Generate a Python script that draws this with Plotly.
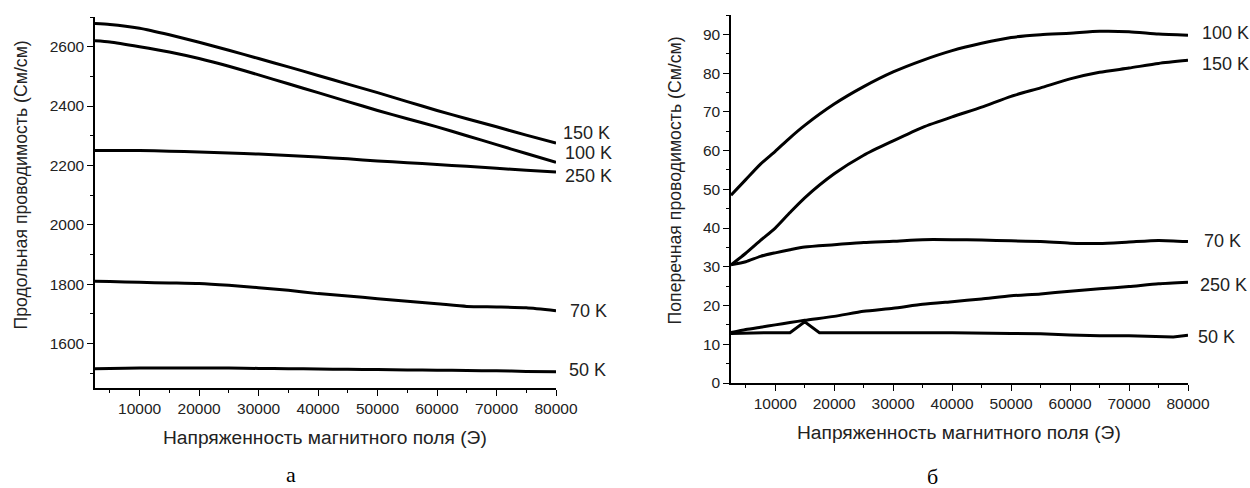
import plotly.graph_objects as go

W, H = 1250, 488

# ---------- data: panel a (longitudinal conductivity) ----------
field_a = [2500, 5000, 10000, 15000, 20000, 25000, 30000, 35000, 40000, 45000,
           50000, 55000, 60000, 65000, 70000, 75000, 80000]
long_150K = [2678, 2675, 2662, 2640, 2615, 2588, 2560, 2532, 2503, 2474,
             2445, 2415, 2385, 2357, 2330, 2302, 2275]
long_100K = [2620, 2616, 2600, 2582, 2560, 2534, 2505, 2475, 2445, 2415,
             2385, 2357, 2330, 2300, 2270, 2240, 2210]
long_250K = [2250, 2250, 2250, 2248, 2245, 2242, 2238, 2233, 2228, 2222,
             2215, 2209, 2203, 2197, 2190, 2184, 2178]
long_70K = [1810, 1809, 1806, 1804, 1802, 1796, 1788, 1779, 1768, 1760,
            1751, 1742, 1734, 1725, 1723, 1720, 1710]
long_50K = [1515, 1516, 1517, 1517, 1517, 1517, 1516, 1515, 1514, 1513,
            1512, 1511, 1510, 1509, 1508, 1506, 1505]
labels_a = ["150 K", "100 K", "250 K", "70 K", "50 K"]

# ---------- data: panel б (transverse conductivity) ----------
field_b = [2500, 5000, 7500, 10000, 12500, 15000, 20000, 25000, 30000, 35000, 40000,
           45000, 50000, 55000, 60000, 65000, 70000, 75000, 80000]
tr_100K = [48.5, 52.5, 56.5, 59.8, 63.3, 66.5, 72.0, 76.5, 80.3, 83.3, 85.8,
           87.7, 89.2, 89.9, 90.3, 90.8, 90.7, 90.1, 89.8]
tr_150K = [30.5, 33.5, 36.8, 40.0, 44.0, 47.8, 54.0, 58.8, 62.5, 66.0, 68.7,
           71.2, 74.0, 76.2, 78.5, 80.2, 81.3, 82.5, 83.3]
tr_70K = [30.5, 31.3, 32.7, 33.6, 34.4, 35.1, 35.7, 36.3, 36.6, 37.0, 37.0,
          36.9, 36.7, 36.5, 36.1, 36.0, 36.4, 36.8, 36.5]
tr_250K = [13.0, 13.8, 14.4, 15.0, 15.6, 16.2, 17.2, 18.5, 19.3, 20.3, 21.0,
           21.7, 22.5, 23.0, 23.7, 24.3, 24.9, 25.6, 26.0]
field_b50 = [2500, 5000, 10000, 12500, 15000, 17500, 20000, 30000, 40000,
             50000, 55000, 60000, 65000, 70000, 75000, 77500, 80000]
tr_50K = [12.8, 12.9, 13.0, 13.0, 15.8, 13.0, 13.0, 13.0, 13.0,
          12.8, 12.7, 12.4, 12.2, 12.2, 12.0, 11.9, 12.3]
labels_b = ["100 K", "150 K", "70 K", "250 K", "50 K"]

x_title = "Напряженность магнитного поля (Э)"
y_title_a = "Продольная проводимость (См/см)"
y_title_b = "Поперечная проводимость (См/см)"

FONT = "Liberation Sans, Arial, sans-serif"
TXT = "#222222"

fig = go.Figure()

series_a = [long_150K, long_100K, long_250K, long_70K, long_50K]
for name, ys in zip(labels_a, series_a):
    fig.add_trace(go.Scatter(x=field_a, y=ys, mode="lines", name=name,
                             line=dict(color="black", width=3, shape="spline", smoothing=0.6),
                             xaxis="x", yaxis="y", showlegend=False))

series_b = [(field_b, tr_100K), (field_b, tr_150K), (field_b, tr_70K),
            (field_b, tr_250K), (field_b50, tr_50K)]
for name, (xs, ys) in zip(labels_b, series_b):
    shape = "linear" if name == "50 K" else "spline"
    fig.add_trace(go.Scatter(x=xs, y=ys, mode="lines", name=name,
                             line=dict(color="black", width=3, shape=shape, smoothing=0.6),
                             xaxis="x2", yaxis="y2", showlegend=False))

def px(x):
    return x / W

def py(y):
    return 1 - y / H

axis_common = dict(showgrid=False, zeroline=False, showline=True, linecolor="black",
                   linewidth=1.5, ticks="outside", ticklen=6, tickwidth=1.3,
                   tickcolor="black", tickformat="d", automargin=False,
                   tickfont=dict(family=FONT, size=15.5, color=TXT))

fig.update_layout(
    width=W, height=H, margin=dict(l=0, r=0, t=0, b=0, pad=0), autosize=False,
    paper_bgcolor="white", plot_bgcolor="white",
    xaxis=dict(domain=[px(95), px(556)], range=[2500, 80000], dtick=10000, tick0=0,
               minor=dict(dtick=5000, tick0=0, ticks="outside", ticklen=3, tickcolor="black"),
               anchor="y", **axis_common),
    yaxis=dict(domain=[py(388), py(17)], range=[1450, 2700], dtick=200, tick0=0,
               minor=dict(dtick=100, tick0=0, ticks="outside", ticklen=3, tickcolor="black"),
               anchor="x", **axis_common),
    xaxis2=dict(domain=[px(731), px(1188)], range=[2500, 80000], dtick=10000, tick0=0,
                minor=dict(dtick=5000, tick0=0, ticks="outside", ticklen=3, tickcolor="black"),
                anchor="y2", **axis_common),
    yaxis2=dict(domain=[py(383), py(15)], range=[0, 95], dtick=10, tick0=0,
                minor=dict(dtick=5, tick0=0, ticks="outside", ticklen=3, tickcolor="black"),
                anchor="x2", **axis_common),
)

ann = []
LBL = 18
# curve labels panel a: (xshift px, yshift px)
shifts_a = [(5, 10), (7, 9), (7, -4), (12, 0), (11, 2)]
for name, ys, (dx, dy) in zip(labels_a, series_a, shifts_a):
    ann.append(dict(x=field_a[-1], y=ys[-1], xref="x", yref="y", text=name,
                    showarrow=False, xanchor="left", yanchor="middle", xshift=dx, yshift=dy,
                    font=dict(family=FONT, size=LBL, color=TXT)))
shifts_b = [(12, 2), (12, -4), (14, 1), (10, -3), (8, -2)]
for name, (xs, ys), (dx, dy) in zip(labels_b, series_b, shifts_b):
    ann.append(dict(x=xs[-1], y=ys[-1], xref="x2", yref="y2", text=name,
                    showarrow=False, xanchor="left", yanchor="middle", xshift=dx, yshift=dy,
                    font=dict(family=FONT, size=LBL, color=TXT)))

# axis titles
ann.append(dict(x=px(325), y=py(437), xref="paper", yref="paper", text=x_title,
                showarrow=False, xanchor="center", yanchor="middle",
                font=dict(family=FONT, size=19.2, color=TXT)))
ann.append(dict(x=px(959), y=py(432), xref="paper", yref="paper", text=x_title,
                showarrow=False, xanchor="center", yanchor="middle",
                font=dict(family=FONT, size=19.2, color=TXT)))
ann.append(dict(x=px(20), y=py(185.5), xref="paper", yref="paper", text=y_title_a,
                textangle=-90, showarrow=False, xanchor="center", yanchor="middle",
                font=dict(family=FONT, size=17.7, color=TXT)))
ann.append(dict(x=px(675), y=py(180.5), xref="paper", yref="paper", text=y_title_b,
                textangle=-90, showarrow=False, xanchor="center", yanchor="middle",
                font=dict(family=FONT, size=17.7, color=TXT)))
# panel letters
ann.append(dict(x=px(291), y=py(474), xref="paper", yref="paper", text="а",
                showarrow=False, xanchor="center", yanchor="middle",
                font=dict(family="Liberation Serif, Times New Roman, serif", size=22, color="black")))
ann.append(dict(x=px(933), y=py(476), xref="paper", yref="paper", text="б",
                showarrow=False, xanchor="center", yanchor="middle",
                font=dict(family="Liberation Serif, Times New Roman, serif", size=22, color="black")))

fig.update_layout(annotations=ann)
fig.write_html("out.html", config={"displayModeBar": False},
               post_script="document.body.style.margin='0';document.body.style.overflow='hidden';")
